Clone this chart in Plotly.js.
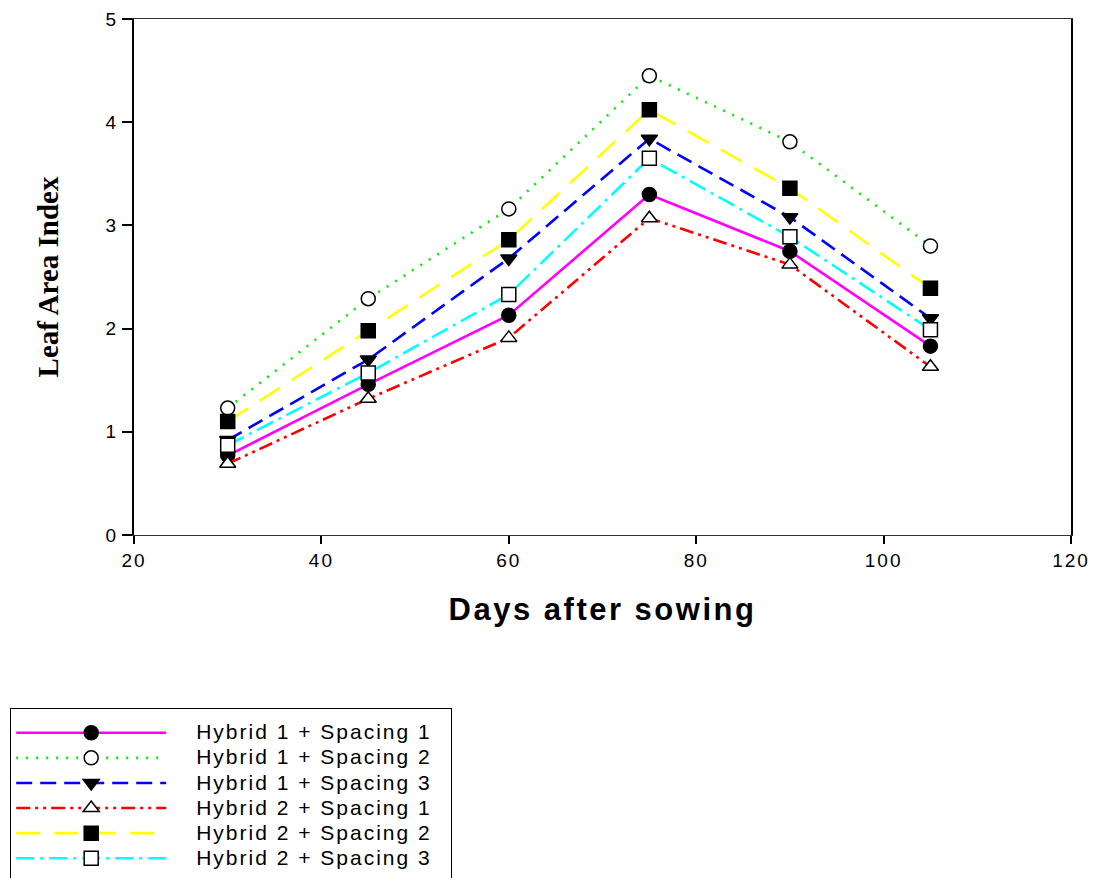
<!DOCTYPE html>
<html><head><meta charset="utf-8">
<script src="https://cdn.plot.ly/plotly-3.0.1.min.js"></script>
<style>
body{margin:0;background:#fff}#c{width:1095px;height:878px}
.xtick text, .ytick text{letter-spacing:2px}
.legendtext{font-size:21px !important;letter-spacing:2px;transform:translateX(25px)}
.legend .scrollbox{clip-path:none !important}
.legend .groups{transform:translateY(6px)}
.legend rect.bg{width:441px !important;height:185px !important}
.g-xtitle text{letter-spacing:2.5px}
</style>
</head><body><div id="c"></div>
<script>
const days = [30, 45, 60, 75, 90, 105];
const names = ["Hybrid 1 + Spacing 1","Hybrid 1 + Spacing 2","Hybrid 1 + Spacing 3","Hybrid 2 + Spacing 1","Hybrid 2 + Spacing 2","Hybrid 2 + Spacing 3"];
const h1s1 = [0.77, 1.46, 2.13, 3.30, 2.75, 1.83];
const h1s2 = [1.23, 2.29, 3.16, 4.45, 3.81, 2.80];
const h1s3 = [0.92, 1.70, 2.68, 3.84, 3.08, 2.10];
const h2s1 = [0.69, 1.32, 1.91, 3.07, 2.62, 1.63];
const h2s2 = [1.10, 1.98, 2.86, 4.12, 3.36, 2.39];
const h2s3 = [0.87, 1.57, 2.33, 3.65, 2.89, 1.99];
const series = [h1s1, h1s2, h1s3, h2s1, h2s2, h2s3];
const colors = ["#ff00ff", "#00ee00", "#0000ff", "#ff0000", "#ffff00", "#00ffff"];
const dashes = ["solid", "2px,8px", "16px,8px", "14px,5px,3px,5px,3px,5px", "24px,14px", "18px,6px,3px,6px"];
const symbols = ["circle", "circle-open", "triangle-down", "triangle-up-open", "square", "square-open"];
const traces = series.map((s, i) => ({
  x: days, y: s, name: names[i], type: "scatter", mode: "lines+markers",
  line: {color: colors[i], width: 2.6, dash: dashes[i]},
  marker: {symbol: symbols[i].replace("-open",""), size: 14,
    color: symbols[i].endsWith("open") ? "#ffffff" : "#000000",
    line: {color: "#000000", width: 1.5}}
}));
const layout = {
  width: 1095, height: 878, paper_bgcolor: "#fff", plot_bgcolor: "#fff",
  margin: {l: 134, r: 24, t: 19, b: 343},
  font: {family: "Arial, Liberation Sans, sans-serif", color: "#000", size: 18},
  xaxis: {range: [20, 120], tickvals: [20,40,60,80,100,120], showgrid: false, zeroline: false,
    showline: true, linecolor: "#333", linewidth: 1.2, mirror: true,
    ticks: "outside", ticklen: 8, tickwidth: 2, tickcolor: "#000", tickfont: {size: 19},
    title: {text: "Days after sowing", font: {size: 31, family: "Arial, Liberation Sans, sans-serif", weight: "bold"}, standoff: 28}},
  yaxis: {range: [0, 5], tickvals: [0,1,2,3,4,5], showgrid: false, zeroline: false,
    showline: true, linecolor: "#000", linewidth: 2, mirror: true,
    ticks: "outside", ticklen: 10, tickwidth: 1.5, tickcolor: "#000", tickfont: {size: 19},
    title: {text: "Leaf Area Index", font: {size: 29, family: "Liberation Serif, Times New Roman, serif", weight: "bold"}, standoff: 38}},
  showlegend: true,
  legend: {xref: "paper", yref: "container", x: (10 - 134) / 937, y: 1 - 708 / 878, xanchor: "left", yanchor: "top",
    bordercolor: "#000", borderwidth: 1.2, font: {size: 17}, itemwidth: 150, bgcolor: "#fff"}
};
Plotly.newPlot("c", traces, layout, {displayModeBar: false});
</script></body></html>
